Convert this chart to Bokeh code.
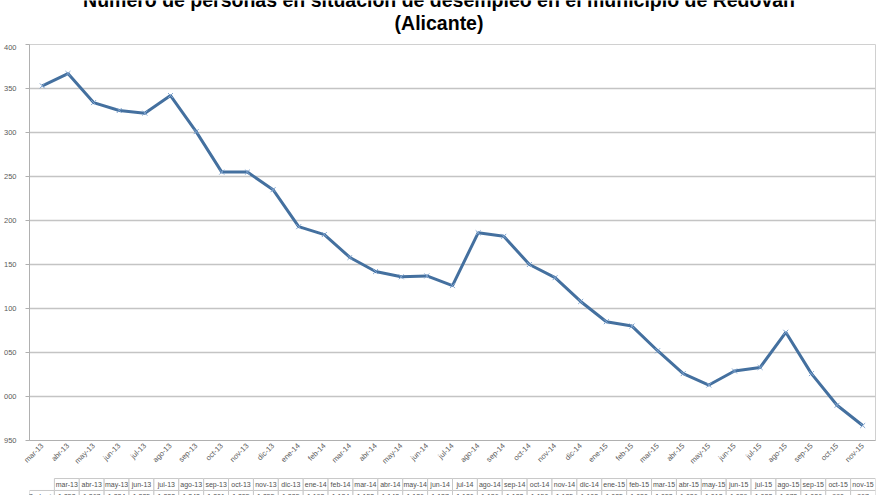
from bokeh.plotting import figure
from bokeh.models import FactorRange, Range1d, ColumnDataSource, FixedTicker
from bokeh.layouts import column
from bokeh.core.properties import value
from bokeh.embed import file_html
from bokeh.resources import INLINE

title_lines = ["Número de personas en situación de desempleo en el municipio de Redován",
               "(Alicante)"]
series_name = "Redován"

months = ["mar-13", "abr-13", "may-13", "jun-13", "jul-13", "ago-13", "sep-13", "oct-13",
          "nov-13", "dic-13", "ene-14", "feb-14", "mar-14", "abr-14", "may-14", "jun-14",
          "jul-14", "ago-14", "sep-14", "oct-14", "nov-14", "dic-14", "ene-15", "feb-15",
          "mar-15", "abr-15", "may-15", "jun-15", "jul-15", "ago-15", "sep-15", "oct-15",
          "nov-15"]
parados = [1353, 1367, 1334, 1325, 1322, 1342, 1301, 1255, 1255, 1235, 1193, 1184,
           1158, 1142, 1136, 1137, 1126, 1186, 1182, 1150, 1135, 1108, 1085, 1080,
           1052, 1026, 1013, 1029, 1033, 1073, 1026, 990, 967]

y_ticks = [950, 1000, 1050, 1100, 1150, 1200, 1250, 1300, 1350, 1400]
y_tick_labels = ["950", "000", "050", "100", "150", "200", "250", "300", "350", "400"]

FONT = "Liberation Sans"
GRID = "#c4c4c4"
LINE = "#44709f"

# title strip (first line is cut by the top edge, as in the reference)
tf = figure(width=880, height=44, x_range=Range1d(0, 880), y_range=Range1d(0, 44),
            output_backend="svg", toolbar_location=None,
            min_border_left=0, min_border_right=0, min_border_top=0, min_border_bottom=0)
tf.axis.visible = False
tf.grid.grid_line_color = None
tf.outline_line_color = None
tsrc = ColumnDataSource(dict(x=[426, 426], y=[44.5, 22], txt=title_lines))
tf.text("x", "y", text="txt", source=tsrc, text_font=value(FONT), text_font_style="bold",
        text_font_size="19.5px", text_color="#000000", text_align="center",
        text_baseline="middle")

p = figure(width=880, height=432, x_range=FactorRange(*months, range_padding=0),
           y_range=Range1d(950, 1400), output_backend="svg", toolbar_location=None,
           min_border_left=25, min_border_right=5, min_border_top=0, min_border_bottom=36)
p.outline_line_color = "#d0d0d0"
p.xgrid.grid_line_color = None
p.ygrid.grid_line_color = GRID
p.ygrid.grid_line_width = 1.6
p.yaxis.ticker = FixedTicker(ticks=y_ticks)
p.yaxis.major_label_overrides = {t: l for t, l in zip(y_ticks, y_tick_labels)}
p.yaxis.major_label_text_font = FONT
p.yaxis.major_label_text_font_size = "7.5px"
p.yaxis.major_label_text_color = "#5a5a5a"
p.yaxis.major_label_standoff = 9
p.yaxis.axis_line_color = "#b0b0b0"
p.yaxis.major_tick_line_color = "#b0b0b0"
p.yaxis.major_tick_out = 4
p.yaxis.major_tick_in = 0
p.yaxis.minor_tick_line_color = None
p.xaxis.axis_line_color = "#b0b0b0"
p.xaxis.major_tick_line_color = None
p.xaxis.major_tick_out = 0
p.xaxis.major_tick_in = 0
p.xaxis.major_label_orientation = 0.785
p.xaxis.major_label_text_font = FONT
p.xaxis.major_label_text_font_size = "7.5px"
p.xaxis.major_label_text_color = "#5a5a5a"
p.xaxis.major_label_standoff = 4

src = ColumnDataSource(dict(m=months, v=parados))
p.line("m", "v", source=src, line_color=LINE, line_width=3)
p.scatter("m", "v", source=src, marker="x", size=7, line_color="#7ea3cf", line_width=1)

# data table under the chart
cols = [series_name] + months
t = figure(width=880, height=19, x_range=FactorRange(*cols, range_padding=0),
           y_range=Range1d(-0.42, 1.17), output_backend="svg", toolbar_location=None,
           min_border_left=0, min_border_right=5, min_border_top=0, min_border_bottom=0)
t.axis.visible = False
t.grid.grid_line_color = None
t.outline_line_color = None
hdr = ColumnDataSource(dict(c=months, y=[0.5] * len(months), txt=months))
t.rect("c", "y", width=1, height=1, source=hdr, fill_color="white", line_color="#c8c8c8")
t.text("c", "y", text="txt", source=hdr, text_font=value(FONT), text_font_size="7px",
       text_color="#505050", text_align="center", text_baseline="middle")
vals = [series_name] + ["{:,}".format(v).replace(",", ".") for v in parados]
row = ColumnDataSource(dict(c=cols, y=[-0.5] * len(cols), txt=vals))
t.rect("c", "y", width=1, height=1, source=row, fill_color="white", line_color="#c8c8c8")
t.text("c", "y", text="txt", source=row, text_font=value(FONT), text_font_size="7px",
       text_color="#505050", text_align="center", text_baseline="middle")

layout = column(tf, p, t, spacing=0)
open("out.html", "w").write(file_html(layout, INLINE))
